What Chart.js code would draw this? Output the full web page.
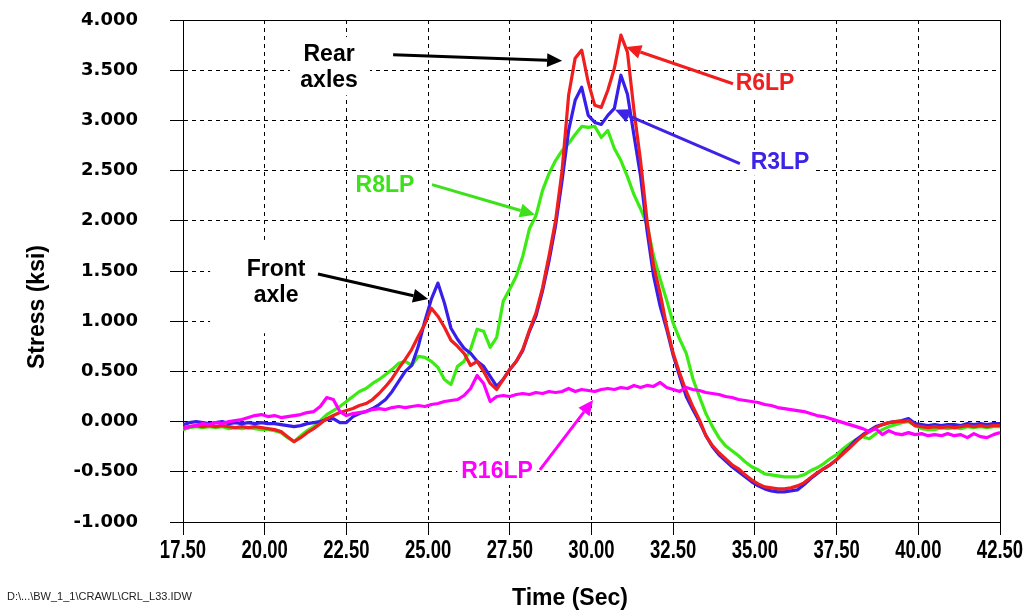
<!DOCTYPE html>
<html><head><meta charset="utf-8">
<script src="https://cdn.jsdelivr.net/npm/chart.js@4.4.1/dist/chart.umd.min.js"></script>
<style>html,body{margin:0;padding:0;background:#fff;}canvas{display:block}</style>
</head><body>
<canvas id="c" width="1031" height="612"></canvas>
<script>
// ---- data (Time in seconds, stress in ksi) ----
const time = [17.5,17.7,17.9,18.1,18.3,18.5,18.7,18.9,19.1,19.3,19.5,19.7,19.9,20.1,20.3,20.5,20.7,20.9,21.1,21.3,
21.5,21.7,21.9,22.1,22.3,22.5,22.7,22.9,23.1,23.3,23.5,23.7,23.9,24.1,24.3,24.5,24.7,24.9,25.1,25.3,
25.5,25.7,25.9,26.1,26.3,26.5,26.7,26.9,27.1,27.3,27.5,27.7,27.9,28.1,28.3,28.5,28.7,28.9,29.1,29.3,
29.5,29.7,29.9,30.1,30.3,30.5,30.7,30.9,31.1,31.3,31.5,31.7,31.9,32.1,32.3,32.5,32.7,32.9,33.1,33.3,
33.5,33.7,33.9,34.1,34.3,34.5,34.7,34.9,35.1,35.3,35.5,35.7,35.9,36.1,36.3,36.5,36.7,36.9,37.1,37.3,
37.5,37.7,37.9,38.1,38.3,38.5,38.7,38.9,39.1,39.3,39.5,39.7,39.9,40.1,40.3,40.5,40.7,40.9,41.1,41.3,
41.5,41.7,41.9,42.1,42.3,42.5];

const r3lp = [-0.03,-0.01,0.00,-0.01,-0.02, -0.01,0.00,-0.02,-0.01,-0.02, -0.01,-0.02,-0.01,-0.02,-0.02,
-0.03,-0.04,-0.05,-0.04,-0.02, -0.01,0.00,0.02,0.03,-0.01, -0.01,0.05,0.08,0.10,0.13,
0.17,0.22,0.30,0.40,0.50, 0.56,0.75,1.00,1.22,1.38, 1.18,0.93,0.82,0.73,0.68,
0.60,0.55,0.45,0.35,0.42, 0.52,0.60,0.71,0.90,1.05, 1.30,1.60,1.95,2.40,2.90,
3.20,3.33,3.05,2.98,2.96, 3.05,3.12,3.45,3.26,2.85, 2.45,1.90,1.45,1.15,0.92,
0.66,0.45,0.25,0.12,0.00, -0.14,-0.25,-0.33,-0.39,-0.45, -0.50,-0.55,-0.60,-0.64,-0.67,
-0.69,-0.70,-0.70,-0.69,-0.68, -0.63,-0.57,-0.52,-0.47,-0.43, -0.38,-0.31,-0.25,-0.18,-0.13,
-0.09,-0.05,-0.03,-0.01,0.00, 0.01,0.03,-0.02,-0.03,-0.04, -0.03,-0.04,-0.03,-0.03,-0.04,
-0.02,-0.03,-0.02,-0.03,-0.02, -0.02];

const r6lp = [-0.06,-0.05,-0.04,-0.05,-0.04, -0.05,-0.04,-0.05,-0.06,-0.05, -0.06,-0.05,-0.06,-0.07,-0.08,
-0.10,-0.15,-0.20,-0.16,-0.11, -0.07,-0.02,0.03,0.06,0.09, 0.11,0.13,0.16,0.18,0.22,
0.28,0.35,0.43,0.53,0.62, 0.72,0.85,0.97,1.13,1.05, 0.94,0.81,0.75,0.68,0.56,
0.60,0.50,0.38,0.32,0.42, 0.52,0.60,0.72,0.91,1.08, 1.33,1.65,2.00,2.50,3.25,
3.62,3.70,3.38,3.15,3.13, 3.30,3.52,3.85,3.68,3.10, 2.60,2.00,1.55,1.28,0.95,
0.68,0.48,0.30,0.15,0.02, -0.14,-0.24,-0.31,-0.37,-0.43, -0.47,-0.53,-0.58,-0.62,-0.65,
-0.66,-0.67,-0.67,-0.66,-0.64, -0.61,-0.56,-0.51,-0.47,-0.43, -0.38,-0.32,-0.26,-0.20,-0.14,
-0.10,-0.06,-0.03,-0.01,0.00, 0.00,0.01,-0.04,-0.05,-0.06, -0.05,-0.06,-0.05,-0.06,-0.05,
-0.04,-0.05,-0.04,-0.05,-0.04, -0.04];

const r8lp = [-0.08,-0.06,-0.05,-0.06,-0.05, -0.06,-0.05,-0.07,-0.06,-0.07, -0.06,-0.07,-0.08,-0.08,-0.09,
-0.11,-0.16,-0.20,-0.14,-0.09, -0.05,0.01,0.07,0.11,0.15, 0.20,0.25,0.30,0.33,0.38,
0.42,0.47,0.52,0.58,0.60, 0.56,0.65,0.64,0.60,0.54, 0.42,0.37,0.55,0.60,0.72,
0.92,0.90,0.74,0.84,1.20, 1.32,1.45,1.65,1.92,2.05, 2.30,2.47,2.60,2.70,2.77,
2.86,2.94,2.93,2.94,2.83, 2.90,2.72,2.60,2.44,2.26, 2.12,1.96,1.65,1.42,1.21,
0.98,0.82,0.68,0.43,0.25, 0.08,-0.05,-0.16,-0.24,-0.29, -0.34,-0.40,-0.45,-0.48,-0.52,
-0.53,-0.54,-0.55,-0.55,-0.55, -0.53,-0.49,-0.46,-0.42,-0.37, -0.33,-0.27,-0.22,-0.18,-0.15,
-0.17,-0.12,-0.08,-0.05,-0.03, -0.01,0.00,-0.04,-0.07,-0.08, -0.08,-0.06,-0.07,-0.06,-0.07,
-0.05,-0.06,-0.05,-0.06,-0.05, -0.05];

const r16lp = [-0.07,-0.05,-0.04,-0.02,-0.03, -0.01,-0.02,0.00,0.01,0.02, 0.04,0.06,0.07,0.05,0.06,
0.04,0.05,0.06,0.07,0.09, 0.10,0.15,0.24,0.22,0.10, 0.06,0.08,0.09,0.10,0.12,
0.13,0.12,0.14,0.15,0.14, 0.15,0.16,0.15,0.17,0.18, 0.20,0.21,0.22,0.26,0.33,
0.46,0.38,0.20,0.25,0.26, 0.25,0.27,0.28,0.27,0.29, 0.28,0.30,0.29,0.30,0.33,
0.30,0.32,0.31,0.30,0.32, 0.33,0.32,0.34,0.33,0.36, 0.34,0.36,0.35,0.39,0.34,
0.32,0.30,0.34,0.32,0.31, 0.29,0.28,0.27,0.25,0.24, 0.22,0.21,0.20,0.19,0.17,
0.16,0.14,0.13,0.12,0.11, 0.10,0.08,0.06,0.05,0.03, 0.01,-0.01,-0.03,-0.05,-0.07,
-0.10,-0.07,-0.13,-0.09,-0.12, -0.13,-0.11,-0.13,-0.12,-0.14, -0.13,-0.14,-0.12,-0.14,-0.13,
-0.16,-0.12,-0.15,-0.16,-0.13, -0.11];

const seriesNames = ['R16LP','R6LP','R3LP','R8LP'];
const xRange = [17.5, 42.5, 2.5];
const yRange = [-1, 4, 0.5];
const xTitle = 'Time (Sec)';
const yTitle = 'Stress (ksi)';
const footnote = 'D:\\...\\BW_1_1\\CRAWL\\CRL_L33.IDW';

// ---- annotations (data units) ----
const notes = [
  {lines:['Rear','axles'], at:[21.97,3.53], color:'#000', box:[20.77,3.83,23.22,3.25]},
  {lines:['Front','axle'], at:[20.35,1.38], color:'#000', box:[18.33,1.81,22.30,0.88]},
  {lines:['R6LP'], at:[35.31,3.365], color:'rgb(240,30,30)'},
  {lines:['R3LP'], at:[35.77,2.578], color:'rgb(60,35,230)'},
  {lines:['R8LP'], at:[23.68,2.349], color:'rgb(60,225,25)'},
  {lines:['R16LP'], at:[27.11,-0.502], color:'rgb(255,0,255)'}
];
const arrows = [
  {from:[23.93,3.655], to:[29.10,3.595], color:'#000'},
  {from:[21.63,1.47], to:[25.00,1.22], color:'#000'},
  {from:[34.33,3.365], to:[31.06,3.73], color:'rgb(240,30,30)'},
  {from:[34.54,2.57], to:[30.72,3.105], color:'rgb(60,35,230)'},
  {from:[25.12,2.36], to:[28.27,2.06], color:'rgb(60,225,25)'},
  {from:[28.42,-0.48], to:[30.05,0.215], color:'rgb(255,0,255)'}
];

const SANS = '"Liberation Sans", Arial, sans-serif';
const noteFont = 'bold 23px ' + SANS;

function P(chart, p){ return [chart.scales.x.getPixelForValue(p[0]), chart.scales.y.getPixelForValue(p[1])]; }

const overlay = {
  id:'overlay',
  beforeDatasetsDraw(chart){
    const ctx = chart.ctx, a = chart.chartArea;
    ctx.save();
    ctx.strokeStyle = '#000'; ctx.lineWidth = 1;
    ctx.beginPath();
    const tY = Math.round(a.top) + 0.5, rX = Math.round(a.right) + 0.5;
    ctx.moveTo(a.left - 13, tY); ctx.lineTo(rX, tY);
    ctx.moveTo(rX, tY); ctx.lineTo(rX, a.bottom + 13);
    ctx.stroke();
    ctx.fillStyle = '#fff';
    ctx.font = noteFont;
    notes.forEach(n => {
      let x1,y1,x2,y2;
      if (n.box){
        [x1,y1] = P(chart,[n.box[0],n.box[1]]); [x2,y2] = P(chart,[n.box[2],n.box[3]]);
      } else {
        const [cx,cy] = P(chart,n.at);
        const w = Math.max(...n.lines.map(l=>ctx.measureText(l).width));
        const h = 26*n.lines.length;
        x1 = cx - w/2 - 4; x2 = cx + w/2 + 4; y1 = cy - h/2; y2 = cy + h/2;
      }
      ctx.fillRect(x1,y1,x2-x1,y2-y1);
    });
    ctx.restore();
  },
  afterDatasetsDraw(chart){
    const ctx = chart.ctx;
    ctx.save();
    arrows.forEach(ar => {
      const [x1,y1] = P(chart, ar.from), [x2,y2] = P(chart, ar.to);
      const ang = Math.atan2(y2-y1, x2-x1), L = 15, W = 7;
      const bx = x2 - L*Math.cos(ang), by = y2 - L*Math.sin(ang);
      ctx.strokeStyle = ar.color; ctx.fillStyle = ar.color; ctx.lineWidth = 3; ctx.lineCap='butt';
      ctx.beginPath(); ctx.moveTo(x1,y1); ctx.lineTo(bx,by); ctx.stroke();
      ctx.beginPath();
      ctx.moveTo(x2,y2);
      ctx.lineTo(bx + W*Math.sin(ang), by - W*Math.cos(ang));
      ctx.lineTo(bx - W*Math.sin(ang), by + W*Math.cos(ang));
      ctx.closePath(); ctx.fill();
    });
    ctx.font = noteFont; ctx.textAlign = 'center'; ctx.textBaseline = 'middle';
    notes.forEach(n => {
      const [cx,cy] = P(chart,n.at);
      ctx.fillStyle = n.color;
      const lh = 26, y0 = cy - lh*(n.lines.length-1)/2;
      n.lines.forEach((l,i)=>ctx.fillText(l, cx, y0 + i*lh));
    });
    ctx.restore();
  },
  afterDraw(chart){
    const ctx = chart.ctx;
    ctx.save();
    ctx.fillStyle = '#000';
    ctx.font = 'bold 25px ' + SANS;
    ctx.textAlign = 'center'; ctx.textBaseline = 'middle';
    chart.scales.x.ticks.forEach(t => {
      const x = chart.scales.x.getPixelForValue(t.value);
      ctx.save();
      ctx.translate(x, 551);
      ctx.scale(0.74, 1);
      ctx.fillText(Number(t.value).toFixed(2), 0, 0);
      ctx.restore();
    });
    ctx.restore();
    ctx.save();
    ctx.fillStyle = '#000';
    ctx.font = 'bold 23px ' + SANS;
    ctx.textAlign = 'center'; ctx.textBaseline = 'middle';
    ctx.fillText(xTitle, 570, 599);
    ctx.translate(38, 307); ctx.rotate(-Math.PI/2);
    ctx.fillText(yTitle, 0, 0);
    ctx.restore();
    ctx.save();
    ctx.fillStyle = '#222';
    ctx.font = '11px ' + SANS;
    ctx.textAlign = 'left'; ctx.textBaseline = 'middle';
    ctx.fillText(footnote, 7, 597);
    ctx.restore();
  }
};

const colors = {R16LP:'rgb(255,0,255)', R6LP:'rgb(240,30,30)', R3LP:'rgb(55,30,235)', R8LP:'rgb(60,235,20)'};
const values = {R16LP:r16lp, R6LP:r6lp, R3LP:r3lp, R8LP:r8lp};

new Chart(document.getElementById('c'), {
  type:'line',
  data:{
    datasets: seriesNames.map((name,k)=>({
      label:name,
      data: time.map((t,i)=>({x:t, y:values[name][i]})),
      borderColor: colors[name],
      borderWidth: 3.2,
      pointRadius: 0,
      fill:false,
      tension:0,
      borderJoinStyle:'round',
      order:k
    }))
  },
  options:{
    responsive:false,
    animation:false,
    layout:{autoPadding:false, padding:{top:20, right:31, left:0, bottom:0}},
    plugins:{legend:{display:false}, tooltip:{enabled:false}, title:{display:false}},
    scales:{
      x:{
        type:'linear', min:xRange[0], max:xRange[1],
        afterFit(s){ s.height = 90; s.paddingLeft = 0; s.paddingRight = 0; },
        ticks:{stepSize:xRange[2], autoSkip:false, maxRotation:0, display:false},
        grid:{color:'#000', lineWidth:1, tickLength:13, tickColor:'#000'},
        border:{display:true, color:'#000', width:1, dash:[4,4]}
      },
      y:{
        type:'linear', min:yRange[0], max:yRange[1],
        afterFit(s){ s.width = 183; s.paddingTop = 0; s.paddingBottom = 0; },
        ticks:{stepSize:yRange[2], autoSkip:false, padding:32,
          color:'#000', font:{family:'"DejaVu Sans", sans-serif', weight:'bold', size:18},
          callback:v=>Number(v).toFixed(3)},
        grid:{color:'#000', lineWidth:1, tickLength:13, tickColor:'#000'},
        border:{display:true, color:'#000', width:1, dash:[4,4]}
      }
    }
  },
  plugins:[overlay]
});
</script>
</body></html>
